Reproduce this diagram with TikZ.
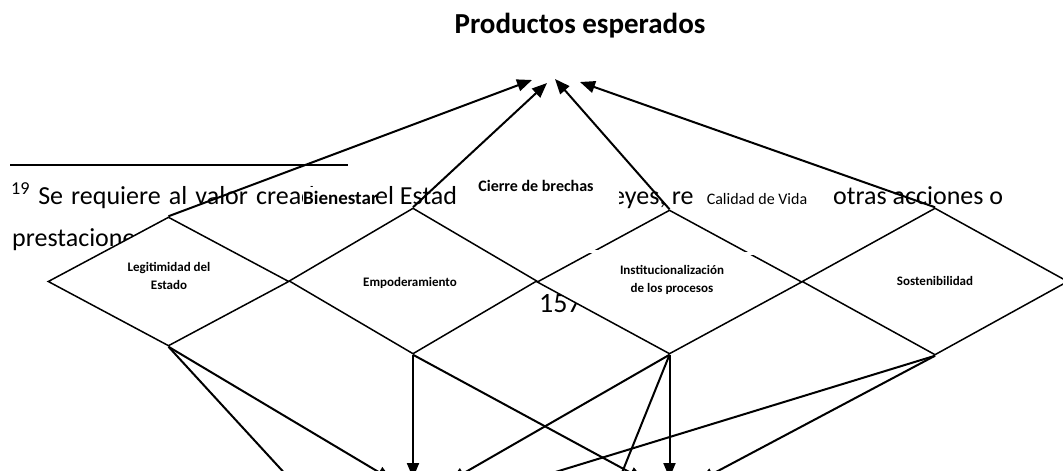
\documentclass[tikz,border=0pt]{standalone}
\usepackage{fontspec}
\setmainfont{Carlito}
\usetikzlibrary{shapes.geometric,arrows.meta}
\begin{document}
\begin{tikzpicture}[x=1pt,y=-1pt,
  dia/.style={draw=black, fill=white, line width=1.5pt, shape=diamond, inner sep=0pt},
  arr/.style={line width=2pt, -{Triangle[length=15pt,width=12pt]}},
  foot/.style={inner sep=0pt, anchor=base west, font=\fontsize{26}{30}\selectfont},
  dlbl/.style={inner sep=0pt, align=center, font=\bfseries\fontsize{13}{18}\selectfont},
  tlbl/.style={inner sep=0pt, font=\fontsize{16}{19}\selectfont},
  cover/.style={fill=white}
]
\useasboundingbox (0,0) rectangle (1063,471);
\clip (0,0) rectangle (1063,471);

% title
\node[inner sep=0pt, anchor=base, font=\bfseries\fontsize{29}{33}\selectfont] (title) at (580,34) {Productos esperados};
\coordinate (t1) at (532,80);
\coordinate (t2) at (547,83);
\coordinate (t3) at (555,79);
\coordinate (t4) at (580,82);

% footnote layer
\coordinate (r1) at (10,165);
\coordinate (r2) at (348,165);
\draw[line width=2pt] (r1) -- (r2);
\node[foot] (f1) at (11,204) {\makebox[290pt][s]{\textsuperscript{19} Se requiere al valor crea}\rlap{d}};
\node[foot] (f3) at (612,204) {eyes, re};
\node[foot] (f4) at (833,204) {otras acciones o};
\node[foot] (f5) at (12,246) {prestaciones};
\node[inner sep=0pt, anchor=base west, font=\fontsize{28}{32}\selectfont] (pg) at (539,312) {157};

% label boxes
\node[tlbl, font=\bfseries\fontsize{19}{22}\selectfont, fill=white, inner ysep=4pt, anchor=base west] (bien) at (303,204) {Bienestar};
\node[foot] (f2) at (375,204) {el Estad};
\fill[cover] (459,172) rectangle (619,250);
\node[tlbl, font=\bfseries\fontsize{16}{19}\selectfont] (cierre) at (536,186) {Cierre de brechas};
\fill[cover] (694,180) rectangle (828,215);
\node[tlbl] (calidad) at (757,199) {Calidad de Vida};

% diamonds
\node[dia, minimum width=241pt, minimum height=129pt] (d1) at (168.5,281.5) {};
\node[dia, minimum width=248pt, minimum height=146pt] (d2) at (413,281) {};
\node[dia, minimum width=265pt, minimum height=144pt] (d3) at (669.5,282) {};
\node[dia, minimum width=266pt, minimum height=147pt] (d4) at (935,281.5) {};
\node[dlbl] (l1) at (169,276) {Legitimidad del\\Estado};
\node[dlbl] (l2) at (410,283) {Empoderamiento};
\node[dlbl] (l3) at (672,280) {Institucionalización\\de los procesos};
\node[dlbl] (l4) at (935,281) {Sostenibilidad};

% gaps in d3
\fill[white] (589,249.5) rectangle (600,252.5);
\fill[white] (744,251.5) rectangle (757,255);

% arrows up
\draw[arr] (d1.north) -- (t1);
\draw[arr] (d2.north) -- (t2);
\draw[arr] (d3.north) -- (t3);
\draw[arr] (d4.north) -- (t4);

% arrows down
\coordinate (b1) at (300,490);
\coordinate (b2) at (392,480);
\coordinate (b3) at (413,478);
\coordinate (b4) at (644,480);
\coordinate (b5) at (450,481);
\coordinate (b6) at (615,490);
\coordinate (b7) at (669.5,478);
\coordinate (b8) at (513,485);
\coordinate (b9) at (699,481);
\draw[arr] (d1.south) -- (b1);
\draw[arr] (d1.south) -- (b2);
\draw[arr] (d2.south) -- (b3);
\draw[arr] (d2.south) -- (b4);
\draw[arr] (d3.south) -- (b5);
\draw[arr] (d3.south) -- (b6);
\draw[arr] (d3.south) -- (b7);
\draw[arr] (d4.south) -- (b8);
\draw[arr] (d4.south) -- (b9);
\end{tikzpicture}
\end{document}
